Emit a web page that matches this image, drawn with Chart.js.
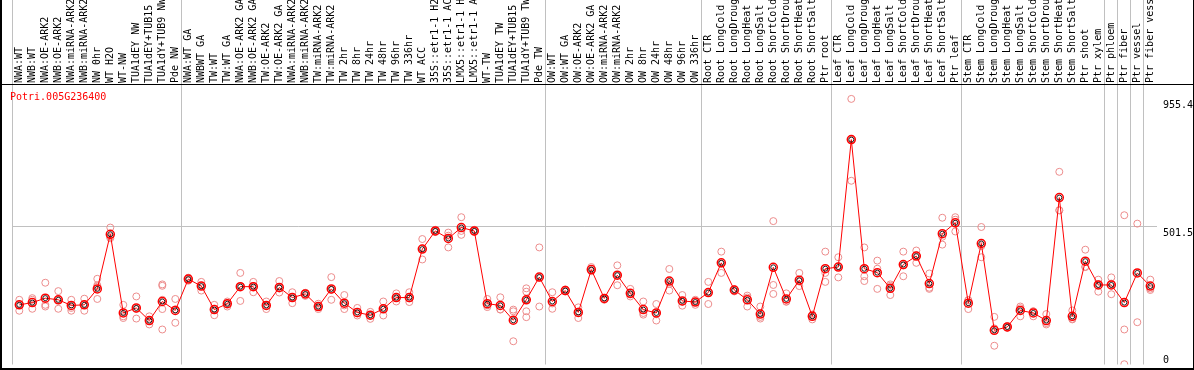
<!DOCTYPE html>
<html>
<head>
<meta charset="utf-8">
<script src="https://cdn.jsdelivr.net/npm/chart.js@4.4.1/dist/chart.umd.min.js"></script>
<style>
html,body{margin:0;padding:0;background:#fff;}
#wrap{width:1194px;height:370px;position:relative;}
</style>
</head>
<body>
<div id="wrap"><canvas id="c" width="1194" height="370"></canvas></div>
<script>
const geneName = "Potri.005G236400";

const categories = [
  "NWA:WT","NWB:WT","NWA:OE-ARK2","NWB:OE-ARK2","NWA:miRNA-ARK2","NWB:miRNA-ARK2","NW 0hr","WT H2O","WT-NW",
  "TUA1dEY NW","TUA1dEY+TUB15 NW","TUA1dY+TUB9 NW","Pde NW",
  "NWA:WT GA","NWBWT GA","TW:WT","TW:WT GA","NWA:OE-ARK2 GA","NWB:OE-ARK2 GA","TW:OE-ARK2","TW:OE-ARK2 GA",
  "NWA:miRNA-ARK2 GA","NWB:miRNA-ARK2 GA","TW:miRNA-ARK2","TW:miRNA-ARK2 GA",
  "TW 2hr","TW 8hr","TW 24hr","TW 48hr","TW 96hr","TW 336hr",
  "WT ACC","35S::etr1-1 H2O","35S::etr1-1 ACC","LMX5::etr1-1 H2O","LMX5::etr1-1 ACC",
  "WT-TW","TUA1dEY TW","TUA1dEY+TUB15 TW","TUA1dY+TUB9 TW","Pde TW",
  "OW:WT","OW:WT GA","OW:OE-ARK2","OW:OE-ARK2 GA","OW:miRNA-ARK2","OW:miRNA-ARK2 GA",
  "OW 2hr","OW 8hr","OW 24hr","OW 48hr","OW 96hr","OW 336hr",
  "Root CTR","Root LongCold","Root LongDrought","Root LongHeat","Root LongSalt","Root ShortCold","Root ShortDrought","Root ShortHeat","Root ShortSalt","Ptr root",
  "Leaf CTR","Leaf LongCold","Leaf LongDrought","Leaf LongHeat","Leaf LongSalt","Leaf ShortCold","Leaf ShortDrought","Leaf ShortHeat","Leaf ShortSalt","Ptr leaf",
  "Stem CTR","Stem LongCold","Stem LongDrought","Stem LongHeat","Stem LongSalt","Stem ShortCold","Stem ShortDrought","Stem ShortHeat","Stem ShortSalt",
  "Ptr shoot","Ptr xylem","Ptr phloem","Ptr fiber","Ptr vessel","Ptr fiber vessel"
];

const meanValues = [
  220,228,244,238,218,220,277,472,191,209,164,232,200,
  312,287,203,224,285,285,218,282,246,259,214,277,
  226,193,183,206,246,246,419,484,457,496,484,
  224,218,165,238,319,232,271,193,346,243,326,261,
  203,191,305,234,230,264,370,273,238,187,354,241,308,179,349,355,
  810,349,335,279,364,394,296,474,513,226,439,129,141,200,191,164,603,179,
  376,291,291,228,334,287
];

const replicateValues = [
  [238,220,199],[244,238,206],[299,220,214],[269,238,206],[238,209,199],[242,220,199],
  [313,290,285,241],[496,463,458],[220,179,173],[250,205,171],[179,163,150],[293,288,238,205,132],[241,204,156],
  [317,312,306],[302,271,288],[220,183,205],[232,214,225],[334,234,286],[302,265,287],[232,205,217],[305,264,278],
  [265,226,247],[262,252,263],[205,214,224],[319,238,273],
  [255,205,218],[209,182,189],[195,170,183],[232,182,205],[261,232,245],[265,230,243],
  [455,382,421],[488,480,484],[478,425,467],[533,470,484],[488,480,484],
  [241,212,218],[247,203,204],[203,197,90],[279,267,238,197,176],[425,214,317],
  [265,206,225],[275,268,270],[211,173,196],[355,340,342],[238,245,244],[361,290,326],
  [277,250,257],[232,185,191],[223,164,186],[348,271,295],[255,217,231],[238,220,231],
  [302,223,266],[410,334,367],[275,268,276],[253,214,246],[214,171,177],[519,291,259],[261,232,231],[334,287,303],[168,185,185],[410,334,302],
  [390,318,357],[955.4,663,810],[425,322,305],[378,349,277],[293,255,288],[410,322,361],[414,370,397],[332,277,281],[531,463,435],[533,482,524],
  [205,236,237],[498,390,430],[177,74,136],[144,138,140],[214,179,208],[197,179,197],[187,150,155],[695,558,557],[200,168,170],
  [417,355,356],[310,267,294],[318,258,296],[540,132,8],[510,158],[310,273,278]
];

// group separators: grid line index = left edge of that category
const groupBoundaries = [0,13,41,53,63,73,84,85,86,87,88];

const yTickValues = [0, 501.5, 955.4];
const yTickLabels = ["0", "501.5", "955.4"];

const repPoints = [];
replicateValues.forEach((arr, i) => arr.forEach(v => repPoints.push({x: categories[i], y: v})));

const MONO = '"DejaVu Sans Mono", "Liberation Mono", monospace';

const framePlugin = {
  id: 'frame',
  afterDraw(chart) {
    const ctx = chart.ctx;
    const y = chart.scales.y;
    const area = chart.chartArea;
    ctx.save();
    ctx.fillStyle = '#000';
    ctx.font = '10px ' + MONO;
    ctx.textAlign = 'left';
    ctx.textBaseline = 'top';
    yTickValues.forEach((v, i) => {
      let py = y.getPixelForValue(v) + 2;
      py = Math.min(py, area.bottom - 9);
      ctx.fillText(yTickLabels[i], 1163, py);
    });
    ctx.fillStyle = '#ff0000';
    ctx.fillText(geneName, 10, 92);
    ctx.fillStyle = '#000';
    ctx.fillRect(0, 0, 2, 370);
    ctx.fillRect(1193, 0, 1, 370);
    ctx.fillRect(0, 84, 1194, 1);
    ctx.fillRect(0, 368, 1194, 2);
    ctx.restore();
  }
};

new Chart(document.getElementById('c'), {
  type: 'line',
  data: {
    labels: categories,
    datasets: [
      {
        label: 'mean-inner',
        data: meanValues,
        showLine: false,
        pointRadius: 2.5,
        pointBorderWidth: 1,
        pointBorderColor: 'rgba(0,0,0,0.85)',
        pointBackgroundColor: 'rgba(0,0,0,0)',
        order: 0
      },
      {
        label: 'mean',
        data: meanValues,
        borderColor: '#ff0000',
        borderWidth: 1,
        pointRadius: 4,
        pointBorderWidth: 1.5,
        pointBorderColor: '#ff0000',
        pointBackgroundColor: 'rgba(0,0,0,0)',
        tension: 0,
        order: 1
      },
      {
        label: 'replicates',
        data: repPoints,
        showLine: false,
        pointRadius: 3.5,
        pointBorderWidth: 1,
        pointBorderColor: 'rgb(236,140,140)',
        pointBackgroundColor: 'rgba(0,0,0,0)',
        order: 2
      }
    ]
  },
  options: {
    responsive: false,
    animation: false,
    devicePixelRatio: 1,
    layout: { padding: { left: 12.8, right: 0, top: 0, bottom: 1 } },
    plugins: { legend: { display: false }, tooltip: { enabled: false }, title: { display: false } },
    scales: {
      x: {
        type: 'category',
        position: 'top',
        offset: true,
        border: { display: false },
        grid: {
          offset: true,
          drawTicks: true,
          tickLength: 85,
          lineWidth: 1,
          color: (c) => groupBoundaries.includes(c.index) ? '#c0c0c0' : 'rgba(0,0,0,0)'
        },
        ticks: {
          autoSkip: false,
          minRotation: 90,
          maxRotation: 90,
          padding: -83,
          labelOffset: 12.5,
          color: '#000',
          font: { family: MONO, size: 10 }
        },
        afterFit: (s) => { s.height = 85; }
      },
      y: {
        type: 'linear',
        position: 'right',
        min: 7,
        max: 1005,
        border: { display: false },
        grid: {
          drawTicks: false,
          lineWidth: 1,
          color: (c) => (c.tick && c.tick.value === 501.5) ? '#c0c0c0' : 'rgba(0,0,0,0)'
        },
        ticks: { display: false },
        afterBuildTicks: (s) => {
          s.ticks = yTickValues.filter(v => v >= s.min && v <= s.max).map(v => ({ value: v }));
        },
        afterFit: (s) => { s.width = 37.2; }
      }
    }
  },
  plugins: [framePlugin]
});
</script>
</body>
</html>
